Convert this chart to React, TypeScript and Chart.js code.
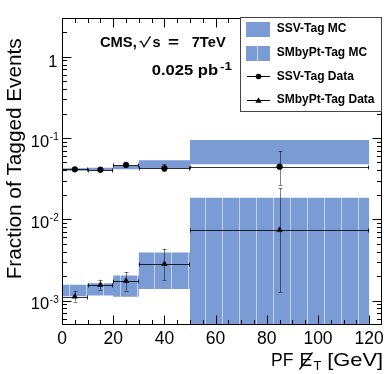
import React, { useEffect, useRef } from 'react';
import { Chart, registerables } from 'chart.js';
Chart.register(...registerables);

// ---- data ----
const binEdges = [0, 10, 20, 30, 50, 120];
const binCenters = [5, 15, 25, 40, 85];

const ssvMcLow = [0.0396, 0.04, 0.0412, 0.0424, 0.0475];
const ssvMcHigh = [0.0424, 0.043, 0.0458, 0.0532, 0.0945];
const smMcLow = [0.00113, 0.00115, 0.00111, 0.00139, 0.0001];
const smMcHigh = [0.00156, 0.00163, 0.00203, 0.00389, 0.01845];

const ssvData = [0.0412, 0.0407, 0.0466, 0.0424, 0.0444];
const ssvErrLo = [0.0399, 0.0394, 0.0452, 0.0391, 0.0264];
const ssvErrHi = [0.0425, 0.042, 0.048, 0.0474, 0.0692];
const smData = [0.00112, 0.00156, 0.00174, 0.00282, 0.00738];
const smErrLo = [0.00097, 0.00136, 0.00132, 0.00179, 0.00127];
const smErrHi = [0.0013, 0.0018, 0.00225, 0.00435, 0.0241];

const xMin = 0;
const xMax = 125;
const yMin = 5e-4;
const yMax = 3;
const xMajorStep = 20;
const xMinorStep = 5;
const xTickValues = [0, 20, 40, 60, 80, 100, 120];
const xTickLabels = ['0', '20', '40', '60', '80', '100', '120'];
const yDecadeExps = [0, -1, -2, -3];
const yDecadeLabels = ['1', '10', '10', '10'];
const yDecadeSups = ['', '-1', '-2', '-3'];
const legendLabels = ['SSV-Tag MC', 'SMbyPt-Tag MC', 'SSV-Tag Data', 'SMbyPt-Tag Data'];

const BLUE = '#7b9bd4';
const FONT = "'Liberation Sans', Arial, Helvetica, sans-serif";

function stepPoints(vals: number[]) {
  return binEdges.map((x, i) => ({ x, y: vals[Math.min(i, vals.length - 1)] }));
}
function markerPoints(vals: number[]) {
  return binCenters.map((x, i) => ({ x, y: vals[i] }));
}

const errSets: Record<string, { y: number[]; lo: number[]; hi: number[] }> = {
  ssv: { y: ssvData, lo: ssvErrLo, hi: ssvErrHi },
  sm: { y: smData, lo: smErrLo, hi: smErrHi },
};

function fitText(
  ctx: CanvasRenderingContext2D,
  text: string,
  left: number,
  baseline: number,
  font: string,
  target?: number
) {
  ctx.font = font;
  ctx.textAlign = 'left';
  ctx.textBaseline = 'alphabetic';
  const m = ctx.measureText(text);
  const ink = m.actualBoundingBoxLeft + m.actualBoundingBoxRight;
  const sx = target && ink > 0 ? target / ink : 1;
  ctx.save();
  ctx.translate(left, baseline);
  ctx.scale(sx, 1);
  ctx.fillText(text, m.actualBoundingBoxLeft, 0);
  ctx.restore();
}

function line(ctx: CanvasRenderingContext2D, x0: number, y0: number, x1: number, y1: number) {
  ctx.beginPath();
  ctx.moveTo(x0, y0);
  ctx.lineTo(x1, y1);
  ctx.stroke();
}

const errorBarPlugin = {
  id: 'errorBars',
  beforeDatasetDraw(chart: any, args: any) {
    const ds = chart.data.datasets[args.index];
    const key = ds.errKey as string | undefined;
    if (!key) return;
    const set = errSets[key];
    const ctx: CanvasRenderingContext2D = chart.ctx;
    const xs = chart.scales.x;
    const ys = chart.scales.y;
    const a = chart.chartArea;
    ctx.save();
    ctx.beginPath();
    ctx.rect(a.left, a.top, a.right - a.left, a.bottom - a.top);
    ctx.clip();
    ctx.lineWidth = 1;
    for (let i = 0; i < binCenters.length; i++) {
      const x0 = xs.getPixelForValue(binEdges[i]);
      const x1 = xs.getPixelForValue(binEdges[i + 1]);
      const xc = Math.round(xs.getPixelForValue(binCenters[i])) + 0.5;
      const yc = Math.round(ys.getPixelForValue(set.y[i])) + 0.5;
      const ylo = ys.getPixelForValue(set.lo[i]);
      const yhi = ys.getPixelForValue(set.hi[i]);
      ctx.strokeStyle = 'rgba(0,0,0,0.8)';
      line(ctx, x0, yc, x1, yc);
      line(ctx, Math.round(x0) + 0.5, yc - 2, Math.round(x0) + 0.5, yc + 2);
      line(ctx, Math.round(x1) - 0.5, yc - 2, Math.round(x1) - 0.5, yc + 2);
      ctx.strokeStyle = 'rgba(0,0,0,0.5)';
      line(ctx, xc, yhi, xc, ylo);
      line(ctx, xc - 2, Math.round(yhi) + 0.5, xc + 2, Math.round(yhi) + 0.5);
      line(ctx, xc - 2, Math.round(ylo) + 0.5, xc + 2, Math.round(ylo) + 0.5);
    }
    ctx.restore();
  },
};

function drawTriangle(ctx: CanvasRenderingContext2D, x: number, y: number, r: number) {
  ctx.beginPath();
  ctx.moveTo(x, y - r);
  ctx.lineTo(x + r * 0.95, y + r * 0.65);
  ctx.lineTo(x - r * 0.95, y + r * 0.65);
  ctx.closePath();
  ctx.fill();
}

const decorPlugin = {
  id: 'decor',
  afterDraw(chart: any) {
    const ctx: CanvasRenderingContext2D = chart.ctx;
    const xs = chart.scales.x;
    const ys = chart.scales.y;
    const a = chart.chartArea;
    const L = a.left + 0.5;
    const R = a.right - 0.5;
    const T = a.top + 0.5;
    const B = a.bottom - 0.5;
    ctx.save();
    ctx.strokeStyle = '#000';
    ctx.lineWidth = 1;
    // x ticks
    for (let v = xMin + xMinorStep; v < xMax; v += xMinorStep) {
      const len = v % xMajorStep === 0 ? 9 : 4.5;
      const X = Math.round(xs.getPixelForValue(v)) + 0.5;
      line(ctx, X, B, X, B - len);
      line(ctx, X, T, X, T + len);
    }
    // y ticks
    for (let e = -4; e <= 0; e++) {
      for (let m = 1; m <= 9; m++) {
        const v = m * Math.pow(10, e);
        if (v <= yMin || v >= yMax) continue;
        const len = m === 1 ? 9 : 4.5;
        const Y = Math.round(ys.getPixelForValue(v)) + 0.5;
        line(ctx, L, Y, L + len, Y);
        line(ctx, R, Y, R - len, Y);
      }
    }
    // frame
    ctx.strokeRect(L, T, R - L, B - T);

    ctx.fillStyle = '#000';
    // x tick labels
    ctx.font = `17.5px ${FONT}`;
    ctx.textAlign = 'center';
    ctx.textBaseline = 'alphabetic';
    xTickValues.forEach((v, i) => {
      ctx.fillText(xTickLabels[i], xs.getPixelForValue(v), 343.5);
    });
    // y tick labels
    yDecadeExps.forEach((e, i) => {
      const Y = ys.getPixelForValue(Math.pow(10, e));
      ctx.font = `16.5px ${FONT}`;
      ctx.textAlign = 'right';
      if (yDecadeSups[i] === '') {
        ctx.fillText(yDecadeLabels[i], 57.5, Y + 10.5);
      } else {
        ctx.fillText(yDecadeLabels[i], 49.2, Y + 8.5);
        ctx.font = `10px ${FONT}`;
        ctx.textAlign = 'left';
        ctx.fillText(yDecadeSups[i], 49.8, Y + 2);
      }
    });

    // y title
    ctx.save();
    ctx.translate(20.7, 278.3);
    ctx.rotate(-Math.PI / 2);
    fitText(ctx, 'Fraction of Tagged Events', 0, 0, `20px ${FONT}`, 240);
    ctx.restore();

    // x title: PF E̸T [GeV]
    fitText(ctx, 'PF', 272, 365.7, `19px ${FONT}`, 21);
    fitText(ctx, 'E', 300.5, 365.7, `19px ${FONT}`);
    ctx.lineWidth = 1.3;
    line(ctx, 299.5, 369.5, 312.5, 352.5);
    fitText(ctx, 'T', 313.5, 370, `13px ${FONT}`);
    fitText(ctx, '[GeV]', 328.3, 365.7, `19px ${FONT}`, 53.4);

    // CMS label
    const bold = `bold 14.5px ${FONT}`;
    fitText(ctx, 'CMS,', 100, 46.7, bold, 36.7);
    ctx.lineWidth = 1.3;
    ctx.beginPath();
    ctx.moveTo(139.5, 42.2);
    ctx.lineTo(141.2, 41.3);
    ctx.lineTo(144, 46.8);
    ctx.lineTo(150.5, 36.4);
    ctx.stroke();
    fitText(ctx, 's', 152.5, 46.7, bold);
    ctx.save();
    ctx.translate(168, 0);
    ctx.scale(1.3, 1);
    ctx.font = bold;
    ctx.textAlign = 'left';
    ctx.fillText('=', 0, 46.7);
    ctx.restore();
    fitText(ctx, '7TeV', 191.7, 46.7, bold, 34.3);
    fitText(ctx, '0.025 pb', 151.7, 75, bold, 66.6);
    fitText(ctx, '-1', 220, 70, `bold 10px ${FONT}`, 12.5);

    // legend
    ctx.fillStyle = '#fff';
    ctx.fillRect(240.5, 17.5, 141, 94);
    ctx.strokeStyle = '#444';
    ctx.lineWidth = 1;
    ctx.strokeRect(240.5, 17.5, 141, 94);
    ctx.fillStyle = BLUE;
    ctx.fillRect(246, 22, 24, 15);
    ctx.fillRect(246, 46, 24, 15);
    ctx.fillStyle = 'rgba(255,255,255,0.6)';
    ctx.fillRect(257, 46, 1, 15);
    ctx.strokeStyle = '#000';
    line(ctx, 247, 76.5, 270, 76.5);
    line(ctx, 247, 100.5, 270, 100.5);
    ctx.fillStyle = '#000';
    ctx.beginPath();
    ctx.arc(258.5, 76.5, 2.8, 0, Math.PI * 2);
    ctx.fill();
    drawTriangle(ctx, 258.5, 100.5, 3.3);
    const baselines = [31.5, 55.5, 79.5, 103.2];
    legendLabels.forEach((t, i) => {
      fitText(ctx, t, 276.7, baselines[i], `bold 12px ${FONT}`);
    });
    ctx.restore();
  },
};

export default function App() {
  const ref = useRef<HTMLCanvasElement>(null);
  useEffect(() => {
    const canvas = ref.current;
    if (!canvas) return;
    const pc = document.createElement('canvas');
    pc.width = 17;
    pc.height = 6;
    const p = pc.getContext('2d')!;
    p.fillStyle = BLUE;
    p.fillRect(0, 0, 17, 6);
    p.fillStyle = 'rgba(255,255,255,0.55)';
    p.fillRect(1, 0, 1, 6);
    const pattern = canvas.getContext('2d')!.createPattern(pc, 'repeat');

    const band = (vals: number[], fill: any, bg: any, order: number) => ({
      type: 'line' as const,
      data: stepPoints(vals),
      stepped: true,
      fill,
      backgroundColor: bg,
      borderColor: 'transparent',
      borderWidth: 1,
      pointRadius: 0,
      order,
    });

    const chart = new Chart(canvas, {
      type: 'line',
      data: {
        datasets: [
          band(ssvMcHigh, '+1', BLUE, 10),
          band(ssvMcLow, false, 'transparent', 10),
          band(smMcHigh, '+1', pattern, 9),
          band(smMcLow, false, 'transparent', 9),
          {
            type: 'line',
            data: markerPoints(ssvData),
            showLine: false,
            pointStyle: 'circle',
            pointRadius: 2.9,
            pointBackgroundColor: '#000',
            pointBorderColor: '#000',
            pointBorderWidth: 0.5,
            order: 1,
            errKey: 'ssv',
          } as any,
          {
            type: 'line',
            data: markerPoints(smData),
            showLine: false,
            pointStyle: 'triangle',
            pointRadius: 3.2,
            pointBackgroundColor: '#000',
            pointBorderColor: '#000',
            pointBorderWidth: 0.5,
            order: 0,
            errKey: 'sm',
          } as any,
        ],
      },
      options: {
        animation: false,
        responsive: false,
        devicePixelRatio: 1,
        events: [],
        layout: { padding: { left: 62, right: 8, top: 18, bottom: 49 } },
        plugins: { legend: { display: false }, tooltip: { enabled: false } },
        scales: {
          x: { type: 'linear', min: xMin, max: xMax, display: false },
          y: { type: 'logarithmic', min: yMin, max: yMax, display: false },
        },
      },
      plugins: [errorBarPlugin, decorPlugin],
    });
    return () => chart.destroy();
  }, []);
  return (
    <div style={{ position: 'absolute', left: 0, top: 0, width: 390, height: 374, background: '#fff' }}>
      <canvas ref={ref} width={390} height={374} style={{ display: 'block' }} />
    </div>
  );
}
